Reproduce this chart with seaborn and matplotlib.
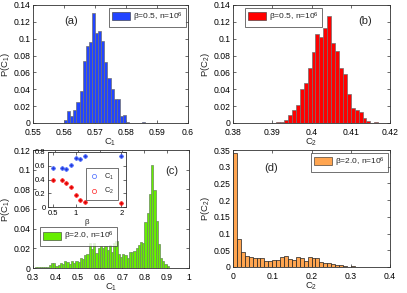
import matplotlib
matplotlib.use("Agg")
import matplotlib.pyplot as plt
from matplotlib.patches import Patch
from matplotlib.lines import Line2D
import seaborn as sns
import pandas as pd
import numpy as np


sns.set_theme(style="white")
plt.rcParams['font.family'] = ['Liberation Sans', 'DejaVu Sans']
plt.rcParams['mathtext.fontset'] = 'custom'
plt.rcParams['mathtext.rm'] = 'Liberation Sans'
plt.rcParams['mathtext.it'] = 'Liberation Sans'

# histogram data: first bin edge, bin width, heights
a_start, a_width = 0.560, 0.001
a_heights = [0.003, 0.014, 0.008, 0.016, 0.025, 0.038, 0.073, 0.091, 0.096, 0.130,
             0.107, 0.109, 0.097, 0.072, 0.053, 0.040, 0.029, 0.028, 0.008, 0.009,
             0.001, 0, 0, 0, 0, 0.001]

b_start, b_width = 0.391, 0.001
b_heights = [0.001, 0.001, 0.003, 0.010, 0.016, 0.021, 0.040, 0.047, 0.065, 0.084,
             0.106, 0.102, 0.113, 0.127, 0.095, 0.086, 0.065, 0.058, 0.035, 0.018,
             0.016, 0.013, 0.006, 0.002, 0, 0.001]

c_start, c_width = 0.30, 0.01
c_heights = [0, 0.001, 0.001, 0.001, 0.001, 0.001, 0.001,
             0.003, 0.005, 0.005, 0.002, 0.003, 0.005, 0.004, 0.007, 0.006, 0.004,
             0.007, 0.005, 0.007, 0.006, 0.010, 0.009, 0.013, 0.014, 0.025, 0.019,
             0.025, 0.015, 0.020, 0.022, 0.020, 0.022, 0.018, 0.023, 0.016, 0.025,
             0.027, 0.014, 0.011, 0.014, 0.013, 0.010, 0.016, 0.016, 0.017, 0.020,
             0.023, 0.026, 0.025, 0.047, 0.056, 0.075, 0.105, 0.079, 0.048, 0.024,
             0.010, 0.007, 0.004, 0.002]

d_start, d_width = 0.0, 0.01
d_heights = [0.340, 0.083, 0.045, 0.033, 0.029, 0.026, 0.028, 0.026, 0.018, 0.019,
             0.022, 0.021, 0.030, 0.032, 0.024, 0.022, 0.030, 0.028, 0.019, 0.030,
             0.026, 0.026, 0.016, 0.012, 0.013, 0.009, 0.005, 0.006, 0.002, 0.001,
             0.002, 0.001]

# inset: mean values vs beta
beta = [0.5, 0.7, 0.8, 0.9, 1.0, 1.1, 1.2, 2.0]
mean_c1 = [0.57, 0.565, 0.56, 0.615, 0.72, 0.70, 0.74, 0.735]
mean_c2 = [0.40, 0.39, 0.35, 0.285, 0.17, 0.105, 0.08, 0.065]

FS = 6.2
W, H = 407, 293


def axes_px(fig, x0, y0, x1, y1):
    return fig.add_axes([x0 / W, 1 - y1 / H, (x1 - x0) / W, (y1 - y0) / H])


def style_axes(ax, fs=FS):
    for s in ax.spines.values():
        s.set_color('#303030')
        s.set_linewidth(0.6)
    ax.tick_params(direction='in', length=2.5, width=0.5, labelsize=fs,
                   top=True, right=True, bottom=True, left=True, colors='#303030',
                   labelcolor='black')
    ax.tick_params(axis='x', pad=3.5)
    ax.tick_params(axis='y', pad=1.8)


def draw_hist(ax, start, width, heights, color, edge):
    n = len(heights)
    df = pd.DataFrame({'x': start + (np.arange(n) + 0.5) * width,
                       'w': np.asarray(heights, dtype=float)})
    sns.histplot(data=df, x='x', weights='w', bins=n,
                 binrange=(start, start + n * width), ax=ax, color=color,
                 edgecolor=edge, linewidth=0.5, alpha=1, stat='count')
    ax.set_ylabel('')


def add_legend(ax, color, edge, text, **kw):
    h = Patch(facecolor=color, edgecolor=edge, linewidth=0.4)
    leg = ax.legend([h], [text], fontsize=FS - 0.2, frameon=True, fancybox=False,
                    handlelength=2.2, handleheight=1.1, handletextpad=0.3,
                    borderpad=0.35, borderaxespad=0.3, **kw)
    leg.get_frame().set_edgecolor('#303030')
    leg.get_frame().set_linewidth(0.6)
    return leg


def fmt(v):
    s = ('%.3f' % v).rstrip('0').rstrip('.')
    return s if s else '0'


def labels(ax, xl, yl, tag, tx, ty):
    ax.set_xlabel(xl, fontsize=FS + 0.6, labelpad=0)
    ax.set_ylabel(yl, fontsize=FS + 0.6, labelpad=1)
    ax.text(tx, ty, tag, transform=ax.transAxes, fontsize=8)


fig = plt.figure(figsize=(W / 100, H / 100), dpi=100)

# (a)
ax = axes_px(fig, 33, 5, 188, 123)
draw_hist(ax, a_start, a_width, a_heights, '#2244ff', '#707070')
ax.set_xlim(0.55, 0.6)
ax.set_ylim(0, 0.14)
xt = [0.55, 0.56, 0.57, 0.58, 0.59, 0.6]
yt = [0, 0.02, 0.04, 0.06, 0.08, 0.1, 0.12, 0.14]
ax.set_xticks(xt, [fmt(v) for v in xt])
ax.set_yticks(yt, [fmt(v) for v in yt])
labels(ax, 'C$_1$', 'P(C$_1$)', '(a)', 0.2, 0.84)
style_axes(ax)
add_legend(ax, '#2244ff', '#303030', r'$\beta$=0.5, n=10$^6$', loc='upper right')

# (b)
ax = axes_px(fig, 233, 5, 390, 123)
draw_hist(ax, b_start, b_width, b_heights, '#ff0000', '#707070')
ax.set_xlim(0.38, 0.42)
ax.set_ylim(0, 0.14)
xt = [0.38, 0.39, 0.4, 0.41, 0.42]
ax.set_xticks(xt, [fmt(v) for v in xt])
ax.set_yticks(yt, [fmt(v) for v in yt])
labels(ax, 'C$_2$', 'P(C$_2$)', '(b)', 0.8, 0.84)
style_axes(ax)
add_legend(ax, '#ff0000', '#303030', r'$\beta$=0.5, n=10$^6$', loc='upper left',
           bbox_to_anchor=(0.06, 1.0))

# (c)
ax = axes_px(fig, 33, 150, 189, 268)
draw_hist(ax, c_start, c_width, c_heights, '#66ee00', '#6a8a5a')
ax.set_xlim(0.3, 1.0)
ax.set_ylim(0, 0.12)
xt = [0.3, 0.4, 0.5, 0.6, 0.7, 0.8, 0.9, 1.0]
yt = [0, 0.02, 0.04, 0.06, 0.08, 0.1, 0.12]
ax.set_xticks(xt, [fmt(v) for v in xt])
ax.set_yticks(yt, [fmt(v) for v in yt])
labels(ax, 'C$_1$', 'P(C$_1$)', '(c)', 0.85, 0.8)
style_axes(ax)
add_legend(ax, '#66ee00', '#303030', r'$\beta$=2.0, n=10$^6$', loc='upper left',
           bbox_to_anchor=(0.03, 0.37))

# inset in (c)
ins = axes_px(fig, 48, 152, 126, 207)
sns.scatterplot(x=beta, y=mean_c1, ax=ins, color='#4466ff', s=10, linewidth=0)
sns.scatterplot(x=beta, y=mean_c2, ax=ins, color='#ff2222', s=10, linewidth=0)
sns.scatterplot(x=beta, y=mean_c1, ax=ins, color='#2233cc', marker='+', s=10, linewidth=0.4)
sns.scatterplot(x=beta, y=mean_c2, ax=ins, color='#cc0000', marker='+', s=10, linewidth=0.4)
ins.set_xlim(0.4, 2.1)
ins.set_ylim(0, 0.8)
ins.set_xticks([0.5, 1, 2], ['0.5', '1', '2'])
ins.set_yticks([0, 0.2, 0.4, 0.6, 0.8], ['0', '0.2', '0.4', '0.6', '0.8'])
ins.set_xlabel(r'$\beta$', fontsize=FS - 0.5, labelpad=0.3)
style_axes(ins, FS - 0.7)
ins.tick_params(length=2)
ins.tick_params(axis='x', pad=2)
hs = [Line2D([], [], ls='none', marker='o', mfc='none', mec='#4466ff', ms=3, mew=0.5),
      Line2D([], [], ls='none', marker='o', mfc='none', mec='#ff2222', ms=3, mew=0.5)]
leg = ins.legend(hs, ['C$_1$', 'C$_2$'], fontsize=FS - 0.9, frameon=True, fancybox=False,
                 loc='center right', bbox_to_anchor=(0.94, 0.42), handlelength=1.4,
                 handletextpad=0.6, borderpad=0.5, labelspacing=0.6)
leg.get_frame().set_edgecolor('#303030')
leg.get_frame().set_linewidth(0.6)

# (d)
ax = axes_px(fig, 233, 150, 390, 267)
draw_hist(ax, d_start, d_width, d_heights, '#ffa550', '#202020')
ax.set_xlim(0, 0.4)
ax.set_ylim(0, 0.35)
xt = [0, 0.1, 0.2, 0.3, 0.4]
yt = [0, 0.05, 0.1, 0.15, 0.2, 0.25, 0.3, 0.35]
ax.set_xticks(xt, [fmt(v) for v in xt])
ax.set_yticks(yt, [fmt(v) for v in yt])
labels(ax, 'C$_2$', 'P(C$_2$)', '(d)', 0.2, 0.82)
style_axes(ax)
add_legend(ax, '#ffa550', '#202020', r'$\beta$=2.0, n=10$^6$', loc='upper right')

fig.savefig('out.png', dpi=100)
